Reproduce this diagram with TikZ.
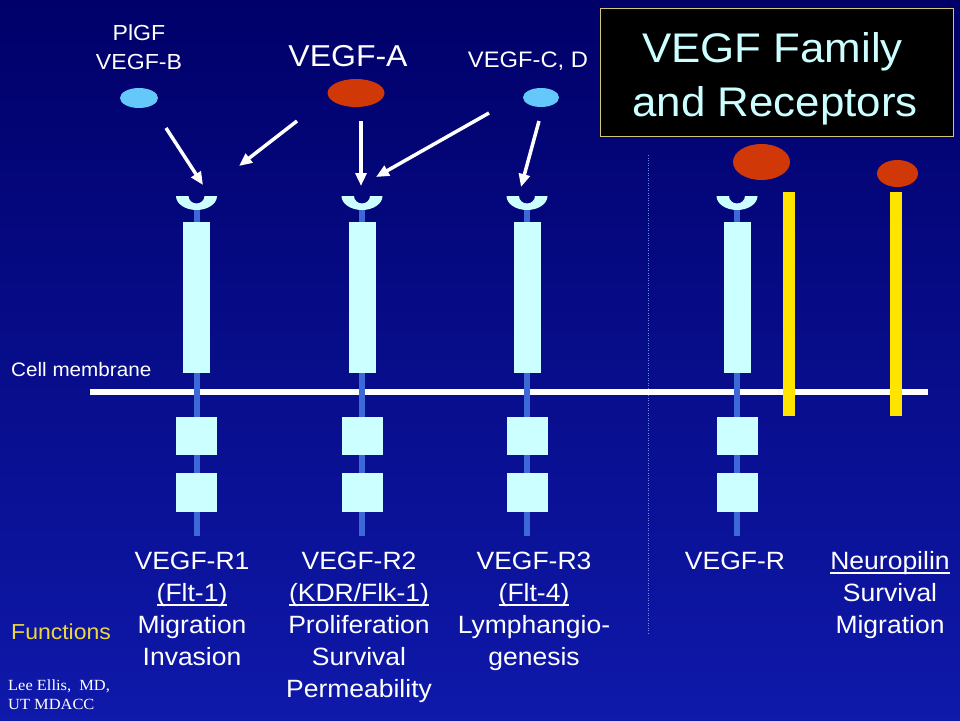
\documentclass[tikz,border=0pt]{standalone}
\usepackage{fontspec}
\setmainfont{Liberation Sans}[FakeStretch=1.06]
\newfontfamily\creditfont{Liberation Serif}[FakeStretch=1.06]
\usetikzlibrary{shapes.geometric,arrows.meta}
\definecolor{bgtop}{RGB}{0,0,105}
\definecolor{bgbot}{RGB}{15,25,170}
\definecolor{rcyan}{RGB}{204,255,255}
\definecolor{stemblue}{RGB}{60,105,215}
\definecolor{ligred}{RGB}{208,56,8}
\definecolor{ligblue}{RGB}{100,200,250}
\definecolor{npyellow}{RGB}{255,228,0}
\definecolor{funcyellow}{RGB}{235,215,60}
\definecolor{titleborder}{RGB}{210,200,110}
\definecolor{titletext}{RGB}{204,255,255}
\definecolor{dotblue}{RGB}{110,140,230}
\newcommand\myul[1]{\setbox0\hbox{#1}\rlap{\rule[-4.5pt]{\wd0}{1.8pt}}\box0}
\newcommand\vegfrec[2]{%
  \fill[stemblue] ({#1-3},205) rectangle ({#1+3},536);
  \node[rbox, minimum width=27, minimum height=151] (#2) at (#1,297.5) {};
  \node[rbox, minimum width=41, minimum height=38] (#2a) at (#1,436) {};
  \node[rbox, minimum width=41, minimum height=39] (#2b) at (#1,492.5) {};
  \fill[rcyan] ({#1-20.5},196) arc[start angle=180,end angle=0,x radius=20.5,y radius=14]
     -- ({#1+8},196) arc[start angle=0,end angle=180,x radius=8,y radius=7.5] -- cycle;
}
\tikzset{
  rbox/.style={rectangle, fill=rcyan, inner sep=0, outer sep=0},
  lig/.style={ellipse, inner sep=0, outer sep=0},
  lab/.style={text=white, font=\fontsize{25}{32}\selectfont, align=center, anchor=base, inner sep=0},
  ligtext/.style={text=white, align=center, anchor=base, inner sep=0},
  arr/.style={draw=white, line width=3.5pt, -{Triangle[length=13pt,width=11pt]}},
}
\begin{document}
\begin{tikzpicture}[x=1pt,y=-1pt]
\useasboundingbox (0,0) rectangle (960,720);
\shade[top color=bgtop,bottom color=bgbot] (0,0) rectangle (960,720);
% dotted divider
\draw[dotblue, line width=1pt, dash pattern=on 1pt off 1.5pt] (648,155) -- (648,635);
% membrane
\fill[white] (90,389) rectangle (928,395);
% receptors
\vegfrec{196.5}{ra}
\vegfrec{362}{rb}
\vegfrec{527}{rc}
\vegfrec{737}{rd}
% neuropilin bars
\node[rectangle, fill=npyellow, inner sep=0, minimum width=12, minimum height=224] (npa) at (789,304) {};
\node[rectangle, fill=npyellow, inner sep=0, minimum width=12, minimum height=224] (npb) at (896,304) {};
% ligands
\node[lig, fill=ligblue, minimum width=38, minimum height=20] (plgf) at (139,98) {};
\node[lig, fill=ligred, minimum width=57, minimum height=28] (vegfa) at (356,93) {};
\node[lig, fill=ligblue, minimum width=36, minimum height=19] (vegfcd) at (541,97.5) {};
\node[lig, fill=ligred, minimum width=57, minimum height=36] (vegfx) at (761.5,162) {};
\node[lig, fill=ligred, minimum width=41, minimum height=27] (npl) at (897.5,173.5) {};
% ligand labels (base = last line)
\node[ligtext, font=\fontsize{21.8}{29}\selectfont] (tplgf) at (139,69) {PlGF\\VEGF-B};
\node[ligtext, font=\fontsize{30.2}{36}\selectfont] (tvegfa) at (348,66) {VEGF-A};
\node[ligtext, font=\fontsize{22.4}{28}\selectfont] (tvegfcd) at (528,67) {VEGF-C, D};
% arrows
\coordinate (a1s) at (166,128); \coordinate (a1e) at (203,185);
\coordinate (a2s) at (297,121); \coordinate (a2e) at (239,166);
\coordinate (a3s) at (361,121); \coordinate (a3e) at (361,186);
\coordinate (a4s) at (489,113); \coordinate (a4e) at (376,177);
\coordinate (a5s) at (539,121); \coordinate (a5e) at (521,187);
\draw[arr] (a1s) -- (a1e);
\draw[arr] (a2s) -- (a2e);
\draw[arr] (a3s) -- (a3e);
\draw[arr] (a4s) -- (a4e);
\draw[arr] (a5s) -- (a5e);
% title
\node[draw=titleborder, line width=1pt, fill=black, minimum width=353, minimum height=128, inner sep=0] (title) at (776.5,72) {};
\node[text=titletext, font=\fontsize{41.4}{50}\selectfont, anchor=base, inner sep=0] (t1) at (772.5,62) {VEGF Family};
\node[text=titletext, font=\fontsize{41.4}{50}\selectfont, anchor=base, inner sep=0] (t2) at (775,116) {and Receptors};
% side labels
\node[text=white, font=\fontsize{19.5}{24}\selectfont, anchor=base west, inner sep=0] (cm) at (11,376) {Cell membrane};
\node[text=funcyellow, font=\fontsize{21.7}{26}\selectfont, anchor=base west, inner sep=0] (fn) at (11,639) {Functions};
\node[text=white, font=\creditfont\fontsize{15.5}{19}\selectfont, anchor=base west, inner sep=0] (cr1) at (8,690) {Lee Ellis,~ MD,};
\node[text=white, font=\creditfont\fontsize{15.5}{19}\selectfont, anchor=base west, inner sep=0] (cr2) at (8,709) {UT MDACC};
% receptor labels (base = last line)
\node[lab] (la) at (192,665) {VEGF-R1\\\myul{(Flt-1)}\\Migration\\Invasion};
\node[lab] (lb) at (359,697) {VEGF-R2\\\myul{(KDR/Flk-1)}\\Proliferation\\Survival\\Permeability};
\node[lab] (lc) at (534,665) {VEGF-R3\\\myul{(Flt-4)}\\Lymphangio-\\genesis};
\node[lab] (ld) at (735,569) {VEGF-R};
\node[lab] (le) at (890,633) {\myul{Neuropilin}\\Survival\\Migration};
\end{tikzpicture}
\end{document}
